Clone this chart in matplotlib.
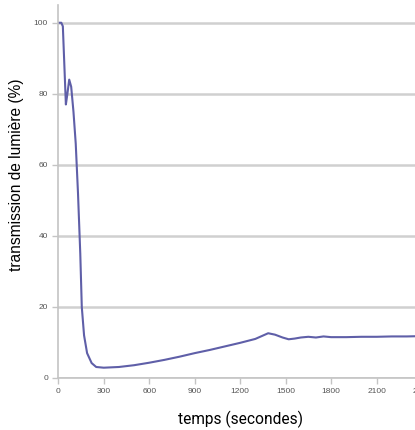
import matplotlib.pyplot as plt

# temps (s) et transmission (%)
temps = [0, 20, 30, 40, 50, 60, 72, 85, 100, 115, 130, 145, 155, 170, 190, 220,
         250, 300, 400, 500, 600, 700, 800, 900, 1000, 1100, 1200, 1300, 1385,
         1430, 1480, 1520, 1560, 1600, 1650, 1700, 1750, 1800, 1900, 2000, 2100,
         2200, 2300, 2400]
transmission = [100, 100, 99, 88, 77, 80, 84, 82, 75, 66, 52, 35, 20, 12, 7, 4.2,
                3.1, 2.9, 3.1, 3.6, 4.3, 5.1, 6.0, 7.0, 7.9, 8.9, 9.9, 11.0, 12.6,
                12.2, 11.4, 10.9, 11.1, 11.4, 11.6, 11.4, 11.7, 11.5, 11.5, 11.6, 11.6,
                11.7, 11.7, 11.8]

x_ticks = [0, 300, 600, 900, 1200, 1500, 1800, 2100, 2400]
y_ticks = [0, 20, 40, 60, 80, 100]

fig = plt.figure(figsize=(4.15, 4.3), dpi=100)
ax = fig.add_axes([58.3 / 415, 52 / 430, (422 - 58.3) / 415, 373 / 430])

ax.plot(temps, transmission, color="#5f5fa8", lw=1.5)

ax.set_xlim(0, 2400)
ax.set_ylim(0, 105)
ax.set_xticks(x_ticks)
ax.set_yticks(y_ticks)
ax.grid(axis="y", color="#d0d0d0", lw=1.8)
ax.set_axisbelow(True)

for side in ["top", "right"]:
    ax.spines[side].set_visible(False)
for side in ["left", "bottom"]:
    ax.spines[side].set_color("#c4c4c4")
    ax.spines[side].set_linewidth(1.2)

ax.tick_params(labelsize=6, colors="#c4c4c4", labelcolor="#555555", length=4, width=1)
for lab in ax.get_xticklabels() + ax.get_yticklabels():
    lab.set_family("Liberation Sans")

ax.set_xlabel("temps (secondes)", family="Roboto", fontsize=11.2)
ax.set_ylabel("transmission de lumière (%)", family="Liberation Sans", fontsize=11.2)
ax.xaxis.set_label_coords(0.5, -33 / 373, transform=ax.transAxes)
ax.yaxis.set_label_coords(-34 / 364, 0.544, transform=ax.transAxes)

fig.savefig("out.png", dpi=100)
